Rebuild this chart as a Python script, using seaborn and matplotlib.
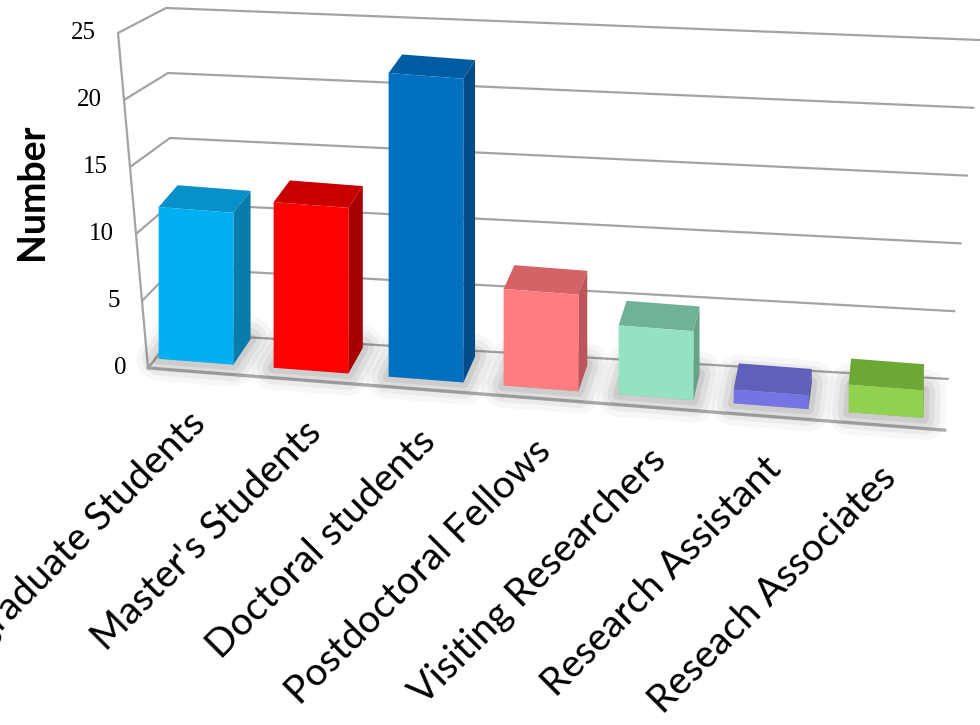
import numpy as np
import pandas as pd
import matplotlib
matplotlib.use("Agg")
import matplotlib.pyplot as plt
import matplotlib.transforms as mtransforms
from matplotlib.patches import Polygon
import seaborn as sns

# ---- data -------------------------------------------------------------
categories = [
    "Undergraduate Students",
    "Master's Students",
    "Doctoral students",
    "Postdoctoral Fellows",
    "Visiting Researchers",
    "Research Assistant",
    "Reseach Associates",
]
counts = [11, 12, 22, 7, 5, 1, 2]
y_ticks = [0, 5, 10, 15, 20, 25]

# face colours of each column: front, top, right side
front_colors = ["#00B0F0", "#FF0000", "#0070C0", "#FF7C80", "#94E2C2", "#7474E4", "#90D24E"]
top_colors = ["#0890CB", "#C80000", "#005CA2", "#D46266", "#70B296", "#6060BC", "#6CA836"]
side_colors = ["#0A7CAA", "#A80000", "#004C88", "#BC565A", "#66A286", "#5454A8", "#5E962E"]

sns.set_theme(style="white")
plt.rcParams["font.family"] = ["Lato", "DejaVu Sans"]

W, H = 980, 725
fig = plt.figure(figsize=(W / 100, H / 100), dpi=100)
fig.patch.set_facecolor("white")
ax = fig.add_axes([0, 0, 1, 1])

df = pd.DataFrame({"category": categories, "count": counts})
sns.barplot(data=df, x="category", y="count", hue="category",
            order=categories, hue_order=categories, palette=front_colors,
            width=0.65, saturation=1, linewidth=0, legend=False, ax=ax, zorder=4)

# work in a pixel frame (origin top-left) for the perspective drawing
ax.set_xlim(0, W)
ax.set_ylim(H, 0)
ax.set_axis_off()

# oblique projection of (category position, value) onto the front plane
proj = mtransforms.Affine2D(np.array([[115.0, 0.0, 196.0],
                                      [8.9, -13.8, 361.7],
                                      [0.0, 0.0, 1.0]]))
bar_tf = proj + ax.transData

VP = np.array([950.0, -700.0])   # vanishing point for depth
DEPTH = 0.024


def recede(p, f=DEPTH):
    p = np.asarray(p, dtype=float)
    return p + f * (VP - p)


# ---- walls, floor and gridlines ------------------------------------------
GRID = "#A3A3A3"


def front_edge(v):
    return np.array([148 - 1.2 * v, 368 - 13.4 * v])


def wall_left(v):
    return np.array([176 - 0.4 * v, 333 - 13.0 * v])


def wall_right(v):
    return np.array([948 + 1.28 * v, 379 - 13.56 * v])


for v in y_ticks:
    pts = np.array([front_edge(v), wall_left(v), wall_right(v)])
    ax.plot(pts[:, 0], pts[:, 1], color=GRID, lw=1.6, zorder=1,
            solid_joinstyle="miter")
    fx, fy = front_edge(v)
    ax.text(fx - 22, fy, str(v), ha="right", va="center", fontsize=18,
            family=["Liberation Serif", "DejaVu Serif"], color="black")

edge = np.array([front_edge(0), front_edge(y_ticks[-1])])
ax.plot(edge[:, 0], edge[:, 1], color=GRID, lw=1.6, zorder=1)
floor_start = front_edge(0)
floor_end = np.array([945.0, floor_start[1] + 0.078 * (945.0 - floor_start[0])])
ax.plot([floor_start[0], floor_end[0]], [floor_start[1], floor_end[1]],
        color="#ADADAD", lw=2.4, zorder=1)

# ---- columns: shadow, top and side faces around seaborn's front faces ----
bars = list(ax.patches)
for p in bars:
    i = int(round(p.get_x() + p.get_width() / 2))
    x0, w, h = p.get_x(), p.get_width(), p.get_height()
    fl0, fr0, fr1, fl1 = proj.transform([(x0, 0), (x0 + w, 0), (x0 + w, h), (x0, h)])
    p.set_transform(bar_tf)

    foot = [fl0, fr0, recede(fr0), recede(fl0)]
    for lw, a in [(32, 0.045), (24, 0.065), (16, 0.085), (8, 0.11)]:
        ax.add_patch(Polygon(foot, closed=True, fc=(0.3, 0.3, 0.3, a),
                             ec=(0.3, 0.3, 0.3, a), lw=lw, joinstyle="round",
                             zorder=2))

    ax.add_patch(Polygon([fl1, fr1, recede(fr1), recede(fl1)], closed=True,
                         fc=top_colors[i], ec="none", zorder=3))
    ax.add_patch(Polygon([fr0, fr1, recede(fr1), recede(fr0)], closed=True,
                         fc=side_colors[i], ec="none", zorder=3))

# ---- category labels and axis title ------------------------------------
for i, name in enumerate(categories):
    cx, _ = proj.transform((i, 0))
    fy = floor_start[1] + 0.078 * (cx - floor_start[0])
    ax.text(cx + 12, fy + 54, name, rotation=45, rotation_mode="anchor",
            ha="right", va="baseline", fontsize=28, color="black")

ax.text(32, 192, "Number", rotation=90, ha="center", va="center",
        fontsize=27, fontweight="bold", color="black")

fig.savefig("out.png", dpi=100, facecolor="white")
